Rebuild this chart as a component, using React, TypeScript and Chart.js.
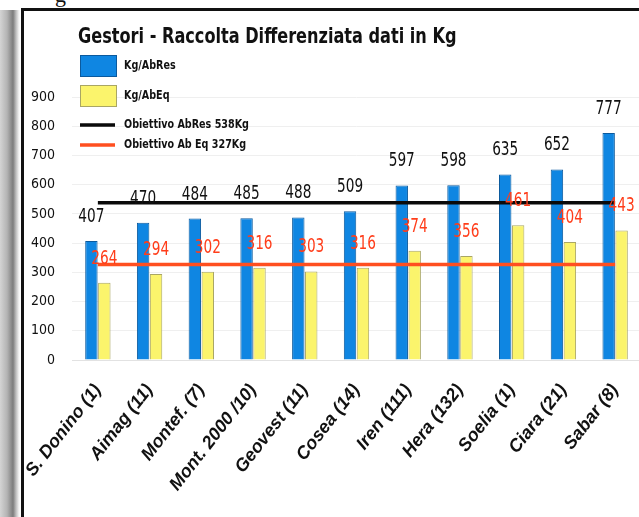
import { useEffect, useRef } from "react";
import { Chart, registerables } from "chart.js";

Chart.register(...registerables);

const TITLE = "Gestori - Raccolta Differenziata dati in Kg";

const categories = [
  "S. Donino (1)",
  "Aimag (11)",
  "Montef. (7)",
  "Mont. 2000 /10)",
  "Geovest (11)",
  "Cosea (14)",
  "Iren (111)",
  "Hera (132)",
  "Soelia (1)",
  "Ciara (21)",
  "Sabar (8)",
];

const kgAbRes = [407, 470, 484, 485, 488, 509, 597, 598, 635, 652, 777];
const kgAbEq = [264, 294, 302, 316, 303, 316, 374, 356, 461, 404, 443];
const obiettivoAbRes = [538, 538, 538, 538, 538, 538, 538, 538, 538, 538, 538];
const obiettivoAbEq = [327, 327, 327, 327, 327, 327, 327, 327, 327, 327, 327];

const seriesLabels = ["Kg/AbRes", "Kg/AbEq", "Obiettivo AbRes 538Kg", "Obiettivo Ab Eq 327Kg"];

const yMin = 0;
const yMax = 900;
const yStep = 100;

const NARROW = '"Liberation Sans Narrow", "DejaVu Sans Condensed", "Liberation Sans", sans-serif';
const WIDE = '"Liberation Sans", Arial, sans-serif';

const BLUE = "#0f86e2";
const BLUE_BORDER = "#0b5a9e";
const YELLOW = "#fbf46c";
const YELLOW_BORDER = "#a9a664";
const BLACK = "#0a0a0a";
const RED = "#ff4f20";
const RED_TEXT = "#ff3d1a";

function scaledText(
  ctx: CanvasRenderingContext2D,
  text: string,
  x: number,
  y: number,
  sx: number,
  align: CanvasTextAlign
) {
  ctx.save();
  ctx.translate(x, y);
  ctx.scale(sx, 1);
  ctx.textAlign = align;
  ctx.fillText(text, 0, 0);
  ctx.restore();
}

const overlayPlugin = {
  id: "overlay",
  afterDatasetsDraw(chart: any) {
    const ctx = chart.ctx as CanvasRenderingContext2D;
    ctx.save();
    ctx.textBaseline = "middle";
    const cfg = [
      { idx: 0, color: "#111111", font: `19px ${NARROW}` },
      { idx: 1, color: RED_TEXT, font: `19px ${NARROW}` },
    ];
    cfg.forEach(({ idx, color, font }) => {
      const meta = chart.getDatasetMeta(idx);
      const values = chart.data.datasets[idx].data as number[];
      ctx.fillStyle = color;
      ctx.font = font;
      meta.data.forEach((el: any, j: number) => {
        scaledText(ctx, String(values[j]), el.x, el.y - 24, 0.8, "center");
      });
    });
    ctx.restore();
  },
  afterDraw(chart: any) {
    const ctx = chart.ctx as CanvasRenderingContext2D;
    const area = chart.chartArea;
    ctx.save();
    // title
    ctx.fillStyle = "#111111";
    ctx.font = `bold 22px ${NARROW}`;
    ctx.textBaseline = "alphabetic";
    scaledText(ctx, TITLE, area.left + 6, 32, 0.815, "left");

    // legend
    const x0 = area.left + 8;
    const boxW = 37;
    const boxH = 22;
    const centers = [55, 85, 114, 134];
    ctx.font = `bold 13px ${NARROW}`;
    chart.data.datasets.forEach((ds: any, i: number) => {
      const cy = centers[i];
      if (ds.type === "line") {
        ctx.strokeStyle = ds.borderColor;
        ctx.lineWidth = 3.5;
        ctx.beginPath();
        ctx.moveTo(x0, cy);
        ctx.lineTo(x0 + 35, cy);
        ctx.stroke();
      } else {
        ctx.fillStyle = ds.backgroundColor;
        ctx.fillRect(x0, cy - boxH / 2, boxW, boxH);
        ctx.strokeStyle = ds.borderColor;
        ctx.lineWidth = 1;
        ctx.strokeRect(x0 + 0.5, cy - boxH / 2 + 0.5, boxW - 1, boxH - 1);
      }
      ctx.fillStyle = "#111111";
      ctx.textBaseline = "middle";
      scaledText(ctx, ds.label, x0 + 44, cy, 0.82, "left");
    });
    ctx.restore();
  },
};

export default function App() {
  const ref = useRef<HTMLCanvasElement>(null);

  useEffect(() => {
    if (!ref.current) return;
    const chart = new Chart(ref.current, {
      type: "bar",
      data: {
        labels: categories,
        datasets: [
          {
            type: "bar",
            label: seriesLabels[0],
            data: kgAbRes,
            backgroundColor: BLUE,
            borderColor: BLUE_BORDER,
            borderWidth: 1,
            categoryPercentage: 0.5,
            barPercentage: 0.96,
            order: 2,
          },
          {
            type: "bar",
            label: seriesLabels[1],
            data: kgAbEq,
            backgroundColor: YELLOW,
            borderColor: YELLOW_BORDER,
            borderWidth: 1,
            categoryPercentage: 0.5,
            barPercentage: 0.96,
            order: 2,
          },
          {
            type: "line",
            label: seriesLabels[2],
            data: obiettivoAbRes,
            borderColor: BLACK,
            backgroundColor: BLACK,
            borderWidth: 3.5,
            pointRadius: 0,
            order: 1,
          },
          {
            type: "line",
            label: seriesLabels[3],
            data: obiettivoAbEq,
            borderColor: RED,
            backgroundColor: RED,
            borderWidth: 3.5,
            pointRadius: 0,
            order: 1,
          },
        ] as any,
      },
      options: {
        responsive: false,
        animation: false,
        devicePixelRatio: 1,
        layout: { padding: { top: 86, right: 23, left: 0, bottom: 0 } },
        plugins: {
          legend: { display: false },
          title: { display: false },
          tooltip: { enabled: false },
        },
        scales: {
          x: {
            grid: { display: false, drawTicks: false },
            border: { display: true, color: "#e2e2e2" },
            ticks: {
              autoSkip: false,
              minRotation: 52,
              maxRotation: 52,
              padding: 20,
              color: "#111111",
              font: { family: WIDE, size: 18, weight: "bold", style: "italic" },
            },
            afterFit: (scale: any) => {
              scale.height = 157;
              scale.paddingLeft = 0;
              scale.paddingRight = 0;
            },
          },
          y: {
            min: yMin,
            max: yMax,
            ticks: {
              stepSize: yStep,
              padding: 17,
              color: "#111111",
              font: { family: NARROW, size: 14 },
            },
            grid: { color: "#efefef", drawTicks: false },
            border: { display: false },
            afterFit: (scale: any) => {
              scale.width = 48;
              scale.paddingTop = 0;
              scale.paddingBottom = 0;
            },
          },
        },
      } as any,
      plugins: [overlayPlugin],
    });
    return () => chart.destroy();
  }, []);

  return (
    <div
      style={{
        position: "fixed",
        left: 0,
        top: 0,
        width: 639,
        height: 517,
        overflow: "hidden",
        background: "#ffffff",
      }}
    >
      <div
        style={{
          position: "absolute",
          left: 0,
          top: 10,
          width: 21,
          height: 520,
          background:
            "linear-gradient(to right, #d4d4d4 0px, #b4b4b4 7px, #7c7c7c 13px, #bdbdbd 16px, #f4f4f4 19px, #ffffff 21px)",
        }}
      />
      <span
        style={{
          position: "absolute",
          left: 55,
          top: -18,
          fontFamily: '"Liberation Serif", serif',
          fontSize: 22,
          color: "#111",
          lineHeight: "25px",
        }}
      >
        g
      </span>
      <div
        style={{
          position: "absolute",
          left: 21,
          top: 8,
          width: 700,
          height: 600,
          borderLeft: "3px solid #111",
          borderTop: "3px solid #111",
          background: "#ffffff",
        }}
      />
      <canvas
        ref={ref}
        width={640}
        height={506}
        style={{ position: "absolute", left: 24, top: 11, width: 640, height: 506 }}
      />
    </div>
  );
}
